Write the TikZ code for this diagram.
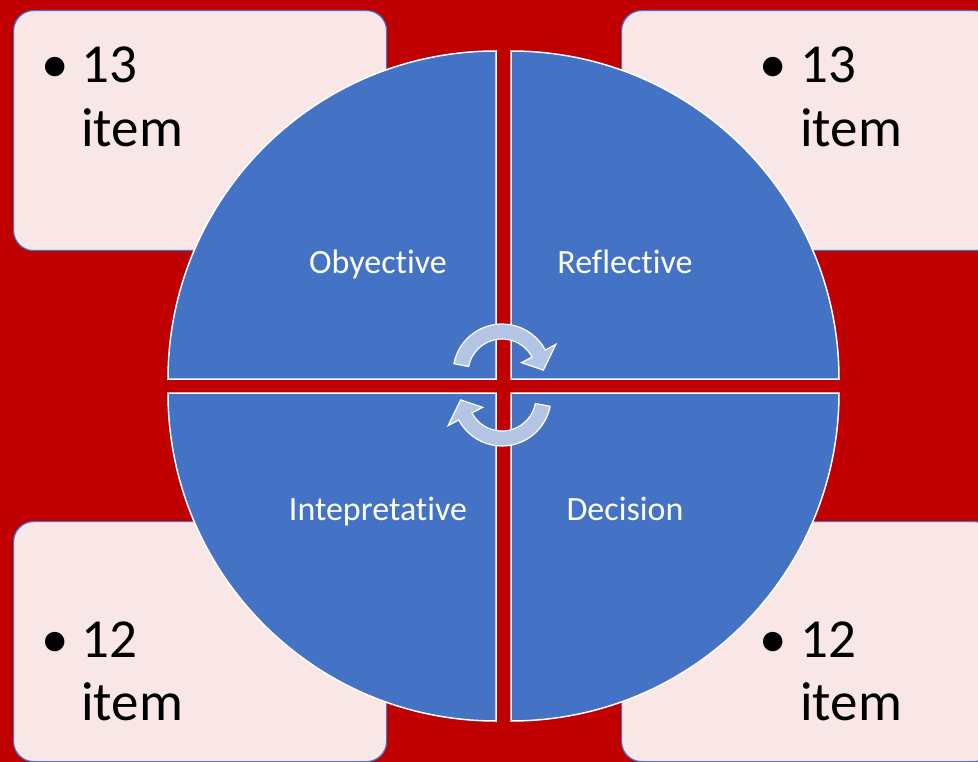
\documentclass[tikz,border=0pt]{standalone}
\usepackage{fontspec}
\setmainfont[RawFeature={-liga;-clig}]{Carlito}
\definecolor{bgred}{HTML}{C00000}
\definecolor{quadblue}{HTML}{4472C4}
\definecolor{boxpink}{HTML}{F9E6E6}
\definecolor{boxblue}{HTML}{4472C4}
\definecolor{arrowblue}{HTML}{B4C4E4}
\begin{document}
\begin{tikzpicture}[x=1pt,y=-1pt,
  itembox/.style={fill=boxpink, draw=boxblue, line width=1.2pt, rounded corners=20pt,
    minimum width=373pt, minimum height=240pt, anchor=north west, inner sep=0pt},
  quad/.style={fill=quadblue, draw=white, line width=1.5pt},
  cyc/.style={fill=arrowblue, draw=white, line width=1.2pt, line join=miter},
  lbl/.style={text=white, font=\fontsize{34}{40}\selectfont, anchor=base, inner sep=0pt},
  big/.style={font=\fontsize{55}{64}\selectfont, anchor=base west, inner sep=0pt},
  bul/.style={font=\fontsize{55}{64}\selectfont, anchor=base, inner sep=0pt}]
\useasboundingbox (0,0) rectangle (978,762);
\fill[bgred] (0,0) rectangle (978,762);

% corner boxes
\node[itembox] (boxtl) at (13,10) {};
\node[itembox] (boxtr) at (621,10) {};
\node[itembox] (boxbl) at (13,521) {};
\node[itembox] (boxbr) at (621,521) {};

% box texts
\node[bul] (bultl) at (55,83) {•};
\node[big] (numtl) at (81,83) {13};
\node[big] (itmtl) at (81,147) {item};
\node[bul] (bultr) at (773,83) {•};
\node[big] (numtr) at (800,83) {13};
\node[big] (itmtr) at (800,147) {item};
\node[bul] (bulbl) at (55,657) {•};
\node[big] (numbl) at (81,657) {12};
\node[big] (itmbl) at (81,720) {item};
\node[bul] (bulbr) at (773,657) {•};
\node[big] (numbr) at (800,657) {12};
\node[big] (itmbr) at (800,720) {item};

% quadrants
\draw[quad] (496,379) -- (168,379) arc[start angle=180, end angle=270, radius=328] -- cycle;
\draw[quad] (511,379) -- (511,51) arc[start angle=270, end angle=360, radius=328] -- cycle;
\draw[quad] (511,393) -- (839,393) arc[start angle=0, end angle=90, radius=328] -- cycle;
\draw[quad] (496,393) -- (496,721) arc[start angle=90, end angle=180, radius=328] -- cycle;

% labels
\node[lbl] (obj) at (378,274) {Obyective};
\node[lbl] (ref) at (625,274) {Reflective};
\node[lbl] (int) at (378,520) {Intepretative};
\node[lbl] (dec) at (625,520) {Decision};

% cycle arrows
\begin{scope}[shift={(502,373)}]
\draw[cyc] (191:49) arc[start angle=191, end angle=332, radius=49]
  -- (332:61) -- (356:41.5) -- (332:22) -- (332:34)
  arc[start angle=332, end angle=191, radius=34] -- cycle;
\end{scope}
\begin{scope}[shift={(502,397)}]
\draw[cyc] (11:49) arc[start angle=11, end angle=152, radius=49]
  -- (152:61) -- (176:41.5) -- (152:22) -- (152:34)
  arc[start angle=152, end angle=11, radius=34] -- cycle;
\end{scope}
\end{tikzpicture}
\end{document}
